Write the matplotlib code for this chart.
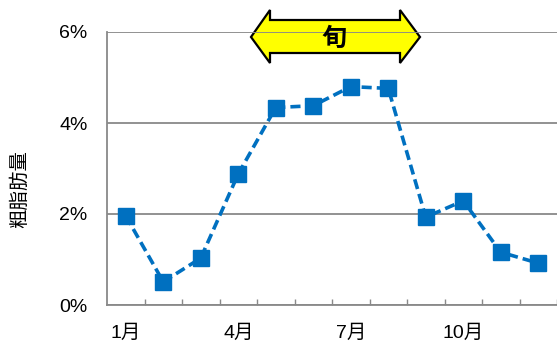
import matplotlib
matplotlib.use("Agg")
import matplotlib.pyplot as plt
from matplotlib.patches import Polygon
from matplotlib.transforms import Affine2D

# data
months = list(range(1, 13))
fat = [1.96, 0.51, 1.03, 2.88, 4.34, 4.38, 4.80, 4.76, 1.93, 2.29, 1.16, 0.92]
month_labels = ["1月", "4月", "7月", "10月"]
month_label_pos = [1, 4, 7, 10]
yticks = [0, 2, 4, 6]

plt.rcParams['font.family'] = ['Liberation Sans', 'Noto Sans CJK JP', 'DejaVu Sans']

W, H = 557, 341
fig = plt.figure(figsize=(W / 100, H / 100), dpi=100)
ax = fig.add_axes([107 / W, 1 - 305 / H, 1 - 107 / W, (305 - 32) / H])

blue = "#0070C0"
gray = "#898989"

ax.plot(months, fat, color=blue, lw=2.6, ls=(0, (2.8, 1.4)),
        marker="s", ms=11.5, mec=blue, mfc=blue, zorder=3, clip_on=False)

ax.set_xlim(0.5, 0.5 + 450 / 37.75)
ax.set_ylim(0, 6)

ax.set_yticks(yticks)
ax.set_yticklabels([f"{v}%" for v in yticks], fontsize=14)
ax.tick_params(axis="y", length=0, pad=14)
ax.yaxis.grid(True, color=gray, lw=1.3)
ax.set_axisbelow(True)

# boundary ticks (inward) and month labels at category centres
ax.set_xticks([m + 0.5 for m in months])
ax.set_xticklabels([])
ax.tick_params(axis="x", which="major", direction="in", length=4.5, width=1, color=gray)
ax.set_xticks(month_label_pos, minor=True)
ax.set_xticklabels(month_labels, minor=True, fontsize=14)
ax.tick_params(axis="x", which="minor", length=0, pad=14)

for s in ["top", "right"]:
    ax.spines[s].set_visible(False)
for s in ["left", "bottom"]:
    ax.spines[s].set_color(gray)
    ax.spines[s].set_linewidth(1.3)

fig.text(20 / W, 1 - 189 / H, "粗脂肪量", rotation=90, fontsize=14,
         ha="center", va="center", family=['Noto Sans CJK JP'])

# "旬" double arrow, in pixel coordinates
px = Affine2D().scale(1 / W, -1 / H).translate(0, 1) + fig.transFigure
arrow_pts = [(251, 37), (270, 10), (270, 20), (400, 20), (400, 10),
             (420, 37), (400, 63), (400, 53), (270, 53), (270, 63)]
ax.add_patch(Polygon(arrow_pts, closed=True, transform=px, facecolor="#FFFF00",
                     edgecolor="black", lw=1.6, clip_on=False, zorder=0.3))
ax.text(334, 39, "旬", transform=px, fontsize=18, fontweight="bold",
        ha="center", va="center", family=['Noto Sans CJK JP'], zorder=4)

fig.savefig("out.png", dpi=100)
